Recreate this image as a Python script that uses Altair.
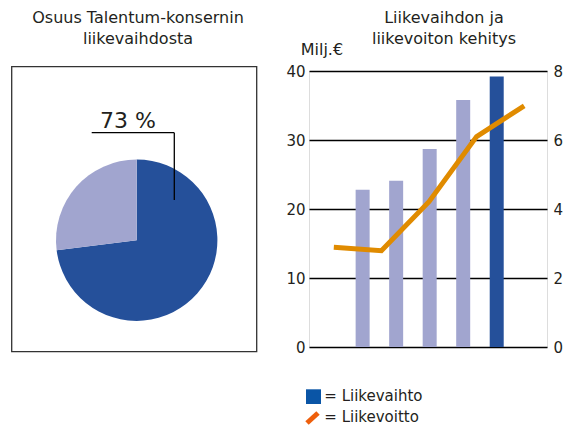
import altair as alt
import pandas as pd

# ---- data ----
years = [95, 96, 97, 98, 99]
revenue = [22.8, 24.1, 28.7, 35.8, 39.2]          # Liikevaihto, Milj.€ (left axis)
profit = [2.89, 2.79, 4.21, 6.10, 6.99]           # Liikevoitto, Milj.€ (right axis)
bar_colors = ["#A1A5CF", "#A1A5CF", "#A1A5CF", "#A1A5CF", "#25509A"]

share_labels = ["Talentum", "Muut"]
share_values = [73, 27]
share_colors = ["#25509A", "#A1A5CF"]

left_title = "Osuus Talentum-konsernin\nliikevaihdosta"
right_title = "Liikevaihdon ja\nliikevoiton kehitys"
unit_label = "Milj.€"
share_text = "73 %"
legend_labels = ["= Liikevaihto", "= Liikevoitto"]
legend_colors = ["#0A55A6", "#EE5F0C"]

left_ticks = [0, 10, 20, 30, 40]
right_ticks = [0, 2, 4, 6, 8]

TXT = "#231F20"
FONT = "DejaVu Sans"

bars_df = pd.DataFrame({"year": years, "revenue": revenue, "color": bar_colors})
line_df = pd.DataFrame({"year": years, "profit": profit})
pie_df = pd.DataFrame({"label": share_labels, "value": share_values,
                       "color": share_colors, "order": [0, 1]})
one = pd.DataFrame({"k": [0]})

xscale = alt.Scale(domain=[93.4, 100.5], nice=False, zero=False, padding=0)

bars = alt.Chart(bars_df).mark_bar(size=14).encode(
    x=alt.X("year:Q", scale=xscale,
            axis=alt.Axis(values=years, format="d", title=None, grid=False,
                          ticks=False, domain=True, domainColor="black",
                          domainWidth=2.5, labelFontSize=15, labelColor=TXT,
                          labelPadding=9, labelFont=FONT)),
    y=alt.Y("revenue:Q", scale=alt.Scale(domain=[0, 40], nice=False),
            axis=alt.Axis(values=left_ticks, title=None, grid=True,
                          gridColor="black", gridWidth=1.6, domain=False,
                          ticks=False, labelPadding=4, labelFontSize=15,
                          labelColor=TXT, labelFont=FONT, orient="left")),
    color=alt.Color("color:N", scale=None),
)

line = alt.Chart(line_df).transform_calculate(
    pos="94.14 + (datum.year - 95) * 1.42"
).mark_line(color="#E08B00", strokeWidth=5, strokeJoin="miter").encode(
    x=alt.X("pos:Q", scale=xscale, axis=None),
    y=alt.Y("profit:Q", scale=alt.Scale(domain=[0, 8], nice=False),
            axis=alt.Axis(values=right_ticks, title=None, grid=False,
                          domain=False, ticks=False, labelPadding=6,
                          labelFontSize=15, labelColor=TXT, labelFont=FONT,
                          orient="right")),
)

# ---- left panel ----
box = alt.Chart(one).mark_rect(fillOpacity=0, stroke="#333", strokeWidth=1.3).encode(
    x=alt.value(-297.3), x2=alt.value(-52.3), y=alt.value(-4.3), y2=alt.value(280.7))

pie = alt.Chart(pie_df).mark_arc(outerRadius=80.7).encode(
    theta=alt.Theta("value:Q", stack=True),
    order=alt.Order("order:Q"),
    color=alt.Color("color:N", scale=None),
    x=alt.value(-172.3), y=alt.value(169.2),
)

lead_h = alt.Chart(one).mark_rule(color="black", strokeWidth=1.3).encode(
    x=alt.value(-217.3), x2=alt.value(-134.7), y=alt.value(61.7), y2=alt.value(61.7))
lead_v = alt.Chart(one).mark_rule(color="black", strokeWidth=1.3).encode(
    x=alt.value(-134.7), x2=alt.value(-134.7), y=alt.value(61.7), y2=alt.value(129))

pct = alt.Chart(one).mark_text(text=share_text, font=FONT, fontSize=22, color=TXT,
                               align="center", baseline="alphabetic").encode(
    x=alt.value(-181), y=alt.value(57.3))

title_l = alt.Chart(one).mark_text(text=left_title.split("\n"), font=FONT, fontSize=16,
                                   color=TXT, align="center", baseline="alphabetic",
                                   lineHeight=21.6).encode(
    x=alt.value(-171), y=alt.value(-48.3))
title_r = alt.Chart(one).mark_text(text=right_title.split("\n"), font=FONT, fontSize=16,
                                   color=TXT, align="center", baseline="alphabetic",
                                   lineHeight=21.6).encode(
    x=alt.value(135), y=alt.value(-48.3))
unit = alt.Chart(one).mark_text(text=unit_label, font=FONT, fontSize=16, color=TXT,
                                align="left", baseline="alphabetic").encode(
    x=alt.value(-8.3), y=alt.value(-16))

# ---- legend ----
leg_sq = alt.Chart(one).mark_rect(color=legend_colors[0]).encode(
    x=alt.value(-3), x2=alt.value(12), y=alt.value(318.3), y2=alt.value(333))
leg_ln = alt.Chart(one).mark_rule(color=legend_colors[1], strokeWidth=5, strokeCap="butt").encode(
    x=alt.value(-2), x2=alt.value(9), y=alt.value(352), y2=alt.value(342))
leg_t1 = alt.Chart(one).mark_text(text=legend_labels[0], font=FONT, fontSize=15, color=TXT,
                                  align="left", baseline="alphabetic").encode(
    x=alt.value(15.3), y=alt.value(329.7))
leg_t2 = alt.Chart(one).mark_text(text=legend_labels[1], font=FONT, fontSize=15, color=TXT,
                                  align="left", baseline="alphabetic").encode(
    x=alt.value(15.3), y=alt.value(351))

chart = alt.layer(
    bars, line, box, pie, lead_h, lead_v, pct, title_l, title_r, unit,
    leg_sq, leg_ln, leg_t1, leg_t2
).resolve_scale(y="independent").properties(
    width=238, height=276,
    padding={"left": 301, "top": 63, "right": 16, "bottom": 79},
    autosize=alt.AutoSizeParams(type="none"),
    background="white",
).configure_view(stroke="#222", strokeWidth=1.2).configure(font=FONT)

chart.save("out.html", embed_options={"renderer": "svg", "actions": False})
